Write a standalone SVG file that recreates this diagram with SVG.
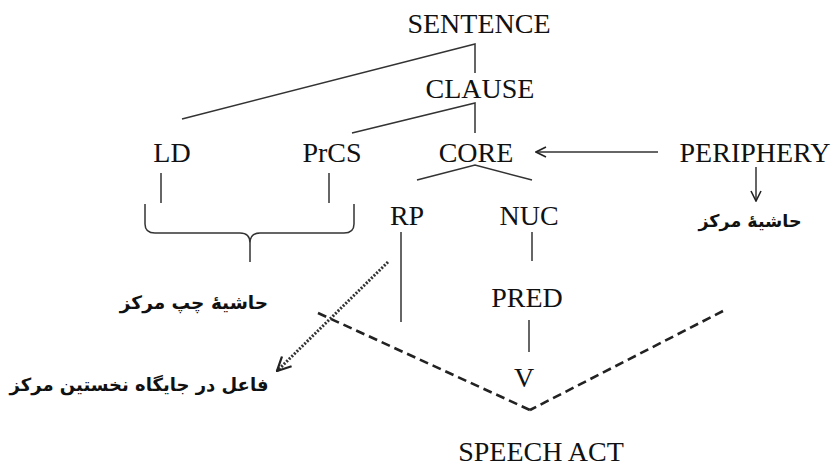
<svg xmlns="http://www.w3.org/2000/svg" width="835" height="468" viewBox="0 0 835 468">
<defs>
<style>
.t{font-family:"Liberation Serif","Times New Roman",serif;font-size:28px;fill:#111;text-anchor:middle}
.a{font-family:"DejaVu Sans","Noto Sans",sans-serif;font-size:18.5px;font-weight:bold;fill:#111;text-anchor:middle}
.l{stroke:#333;stroke-width:1.5;fill:none}
.d{stroke:#222;stroke-width:2.6;fill:none;stroke-dasharray:9 5}
.o{stroke:#333;stroke-width:3;fill:none;stroke-dasharray:2 1.6}
</style>
<marker id="ah" viewBox="0 0 12 12" refX="11" refY="6" markerWidth="12" markerHeight="12" markerUnits="userSpaceOnUse" orient="auto">
<path d="M1,1 L11,6 L1,11" fill="none" stroke="#222" stroke-width="1.6"/>
</marker>
<marker id="ah2" viewBox="0 0 14 14" refX="13" refY="7" markerWidth="16" markerHeight="16" markerUnits="userSpaceOnUse" orient="auto">
<path d="M1,1 L13,7 L1,13" fill="none" stroke="#222" stroke-width="2"/>
</marker>
</defs>
<rect width="835" height="468" fill="#fff"/>
<g id="connectors">
<polyline class="l" points="182,119 475,44 475,73"/>
<polyline class="l" points="352,133 475,103 475,133"/>
<polyline class="l" points="417,180 475,165 532,180"/>
<line class="l" x1="161" y1="173" x2="161" y2="203"/>
<line class="l" x1="329" y1="173" x2="329" y2="203"/>
<path class="l" d="M145,204 V224 Q145,233 155,233 H240 Q250,233 250,243 V262 M250,243 Q250,233 260,233 H344 Q354,233 354,224 V204"/>
<line class="l" x1="401" y1="232" x2="401" y2="322"/>
<line class="l" x1="532" y1="232" x2="532" y2="261"/>
<line class="l" x1="529" y1="320" x2="529" y2="352"/>
<line class="d" x1="318" y1="313" x2="530" y2="410"/>
<line class="d" x1="723" y1="311" x2="530" y2="410"/>
<line class="o" x1="388" y1="262" x2="277" y2="371" marker-end="url(#ah2)"/>
<line class="l" x1="658" y1="152" x2="536" y2="152" marker-end="url(#ah)"/>
<line class="l" x1="756" y1="167" x2="756" y2="201" marker-end="url(#ah)"/>
</g>
<g id="sentence"><text class="t" x="479" y="33">SENTENCE</text></g>
<g id="clause"><text class="t" x="480" y="98">CLAUSE</text></g>
<g id="ld"><text class="t" x="172" y="162">LD</text></g>
<g id="prcs"><text class="t" x="332" y="162">PrCS</text></g>
<g id="core"><text class="t" x="476" y="162">CORE</text></g>
<g id="periphery"><text class="t" x="755" y="162">PERIPHERY</text></g>
<g id="periphery-label"><text class="a" x="750" y="227" style="font-size:17.5px">حاشیهٔ مرکز</text></g>
<g id="rp"><text class="t" x="407" y="225">RP</text></g>
<g id="nuc"><text class="t" x="529" y="225">NUC</text></g>
<g id="pred"><text class="t" x="527" y="307">PRED</text></g>
<g id="v"><text class="t" x="524" y="387">V</text></g>
<g id="left-periphery-label"><text class="a" x="194" y="309">حاشیهٔ چپ مرکز</text></g>
<g id="subject-label"><text class="a" x="139" y="391" style="font-size:18px">فاعل در جایگاه نخستین مرکز</text></g>
<g id="speech-act"><text class="t" x="541" y="461">SPEECH ACT</text></g>
</svg>
